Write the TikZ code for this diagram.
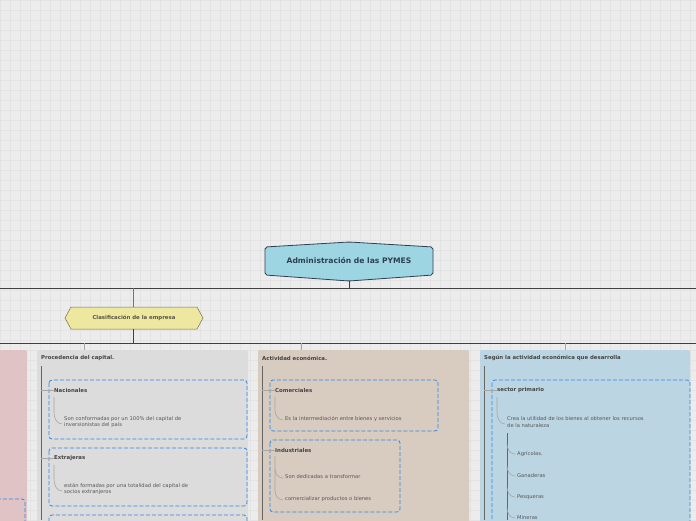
\documentclass[tikz,border=0pt]{standalone}
\usepackage{fontspec}
\setmainfont{DejaVu Sans}
\usetikzlibrary{positioning}
\definecolor{bgc}{HTML}{ECECEC}
\definecolor{gridc}{HTML}{E3E3E3}
\definecolor{rootc}{HTML}{9ED5E3}
\definecolor{rootline}{HTML}{2E3F50}
\definecolor{yelc}{HTML}{EDE7A0}
\definecolor{yelline}{HTML}{6E6E55}
\definecolor{pinkc}{HTML}{E0C3C5}
\definecolor{grayc}{HTML}{DCDCDD}
\definecolor{tanc}{HTML}{D8CBC0}
\definecolor{bluec}{HTML}{BCD5E2}
\definecolor{dashc}{HTML}{2F86E6}
\definecolor{txtc}{HTML}{444444}
\begin{document}
\begin{tikzpicture}[x=1pt,y=-1pt,
    panel/.style={fill=#1, rounded corners=2pt},
    ptitle/.style={anchor=west, font=\bfseries\fontsize{5.4}{6.5}\selectfont, text=txtc, inner sep=0pt},
    subbox/.style={draw=dashc, dash pattern=on 4pt off 2pt, line width=0.8pt, rounded corners=3pt},
    btitle/.style={anchor=west, font=\bfseries\fontsize{5.4}{6.5}\selectfont, text=txtc, inner sep=0pt},
    btext/.style={anchor=west, align=left, font=\fontsize{5.2}{6.5}\selectfont, text=txtc!90, inner sep=0pt},
    trunk/.style={draw=black!60, line width=1pt},
    twig/.style={draw=black!35, line width=0.6pt},
    link/.style={draw=black!75, line width=0.7pt}]
  \useasboundingbox (0,0) rectangle (696,520);
  \fill[bgc] (0,0) rectangle (696,520);
  \foreach \g in {0,10,...,690} \draw[gridc, line width=0.3pt] (\g,0) -- (\g,520);
  \foreach \g in {0,10,...,520} \draw[gridc, line width=0.3pt] (0,\g) -- (696,\g);

  % root and main category
  \draw[fill=rootc, draw=rootline, line width=0.8pt, rounded corners=2pt]
    (265,247) -- (349,242) -- (433,247) -- (433,275) -- (349,281) -- (265,275) -- cycle;
  \node[font=\bfseries\fontsize{7.6}{9}\selectfont, text=rootline] (root) at (349,261) {Administración de las PYMES};
  \draw[fill=yelc, draw=yelline, line width=0.5pt]
    (71,307) -- (197,307) -- (203,318) -- (197,329) -- (71,329) -- (65,318) -- cycle;
  \node[font=\bfseries\fontsize{5.4}{6.5}\selectfont, text=yelline!80!black] (clasif) at (134,318) {Clasificación de la empresa};
  \coordinate (busA) at (349,288);
  \coordinate (busB) at (133,343);
  \draw[link] (349,281) -- (busA);
  \draw[link] (0,288) -- (696,288);
  \draw[black!55, line width=0.7pt] (133,288) -- (133,307);
  \draw[link] (133,329) -- (busB);
  \draw[link] (0,343) -- (696,343);
  \foreach \x in {84,301,565} \draw[black!35, line width=0.6pt] (\x,343) -- (\x,350);

  % panels
  \fill[panel=pinkc] (-10,350) rectangle (27,530);
  \fill[panel=grayc] (37,350) rectangle (248,530);
  \fill[panel=tanc] (258,350) rectangle (469,530);
  \fill[panel=bluec] (480,350) rectangle (690,530);
  \draw[subbox] (-10,499) rectangle (25,530);

  % Procedencia del capital
  \node[ptitle] (proc) at (41,358) {Procedencia del capital.};
  \draw[trunk] (41,366) -- (41,520);
  \draw[subbox] (49,380) rectangle (247,439);
  \draw[subbox] (49,448) rectangle (247,506);
  \draw[subbox] (49,515) rectangle (247,530);
  \node[btitle] (nac) at (54,390) {Nacionales};
  \node[btext] (nact) at (64,422) {Son conformadas por un 100\% del capital de\\inversionistas del país};
  \node[btitle] (ext) at (54,458) {Extrajeras};
  \node[btext] (extt) at (64,489) {están formadas por una totalidad del capital de\\socios extranjeros};
  \draw[twig] (41,390) -- (nac.west);
  \draw[twig] (41,458) -- (ext.west);
  \draw[twig] (54,397) -- (54,412) to[out=-90,in=180] ([xshift=-2pt,yshift=-2pt]nact.west);
  \draw[twig] (54,465) -- (54,479) to[out=-90,in=180] ([xshift=-2pt,yshift=-2pt]extt.west);

  % Actividad economica
  \node[ptitle] (act) at (262,358) {Actividad económica.};
  \draw[trunk] (262,366) -- (262,520);
  \draw[subbox] (270,380) rectangle (438,431);
  \draw[subbox] (270,440) rectangle (400,512);
  \node[btitle] (com) at (275,390) {Comerciales};
  \node[btext] (comt) at (285,419) {Es la intermediación entre bienes y servicios};
  \node[btitle] (ind) at (275,450) {Industriales};
  \node[btext] (indt1) at (285,477) {Son dedicadas a transformar};
  \node[btext] (indt2) at (285,499) {comercializar productos o bienes};
  \draw[twig] (262,390) -- (com.west);
  \draw[twig] (262,450) -- (ind.west);
  \draw[twig] (275,397) -- (275,410) to[out=-90,in=180] ([xshift=-2pt,yshift=-1pt]comt.west);
  \draw[twig] (275,456) -- (275,469) to[out=-90,in=180] ([xshift=-2pt,yshift=-1pt]indt1.west);
  \draw[twig] (275,469) -- (275,491) to[out=-90,in=180] ([xshift=-2pt,yshift=-1pt]indt2.west);

  % Segun la actividad
  \node[ptitle] (seg) at (484,358) {Según la actividad económica que desarrolla};
  \draw[trunk] (484,366) -- (484,520);
  \draw[subbox] (492,380) rectangle (690,530);
  \node[btitle] (prim) at (497,390) {sector primario};
  \node[btext] (primt) at (507,422) {Crea la utilidad de los bienes al obtener los recursos\\de la naturaleza};
  \draw[twig] (484,390) -- (prim.west);
  \draw[twig] (497,397) -- (497,412) to[out=-90,in=180] ([xshift=-2pt,yshift=-2pt]primt.west);
  \draw[trunk] (507,433) -- (507,520);
  \foreach \lbl/\yy/\nm in {Agrícolas./454/agr, Ganaderas/476/gan, Pesqueras/497/pes, Mineras/518/min}{
    \node[btext] (\nm) at (517,\yy) {\lbl};
    \draw[twig] (507,\yy-10) to[out=-90,in=180] ([xshift=-2pt]\nm.west);
  }
\end{tikzpicture}
\end{document}
